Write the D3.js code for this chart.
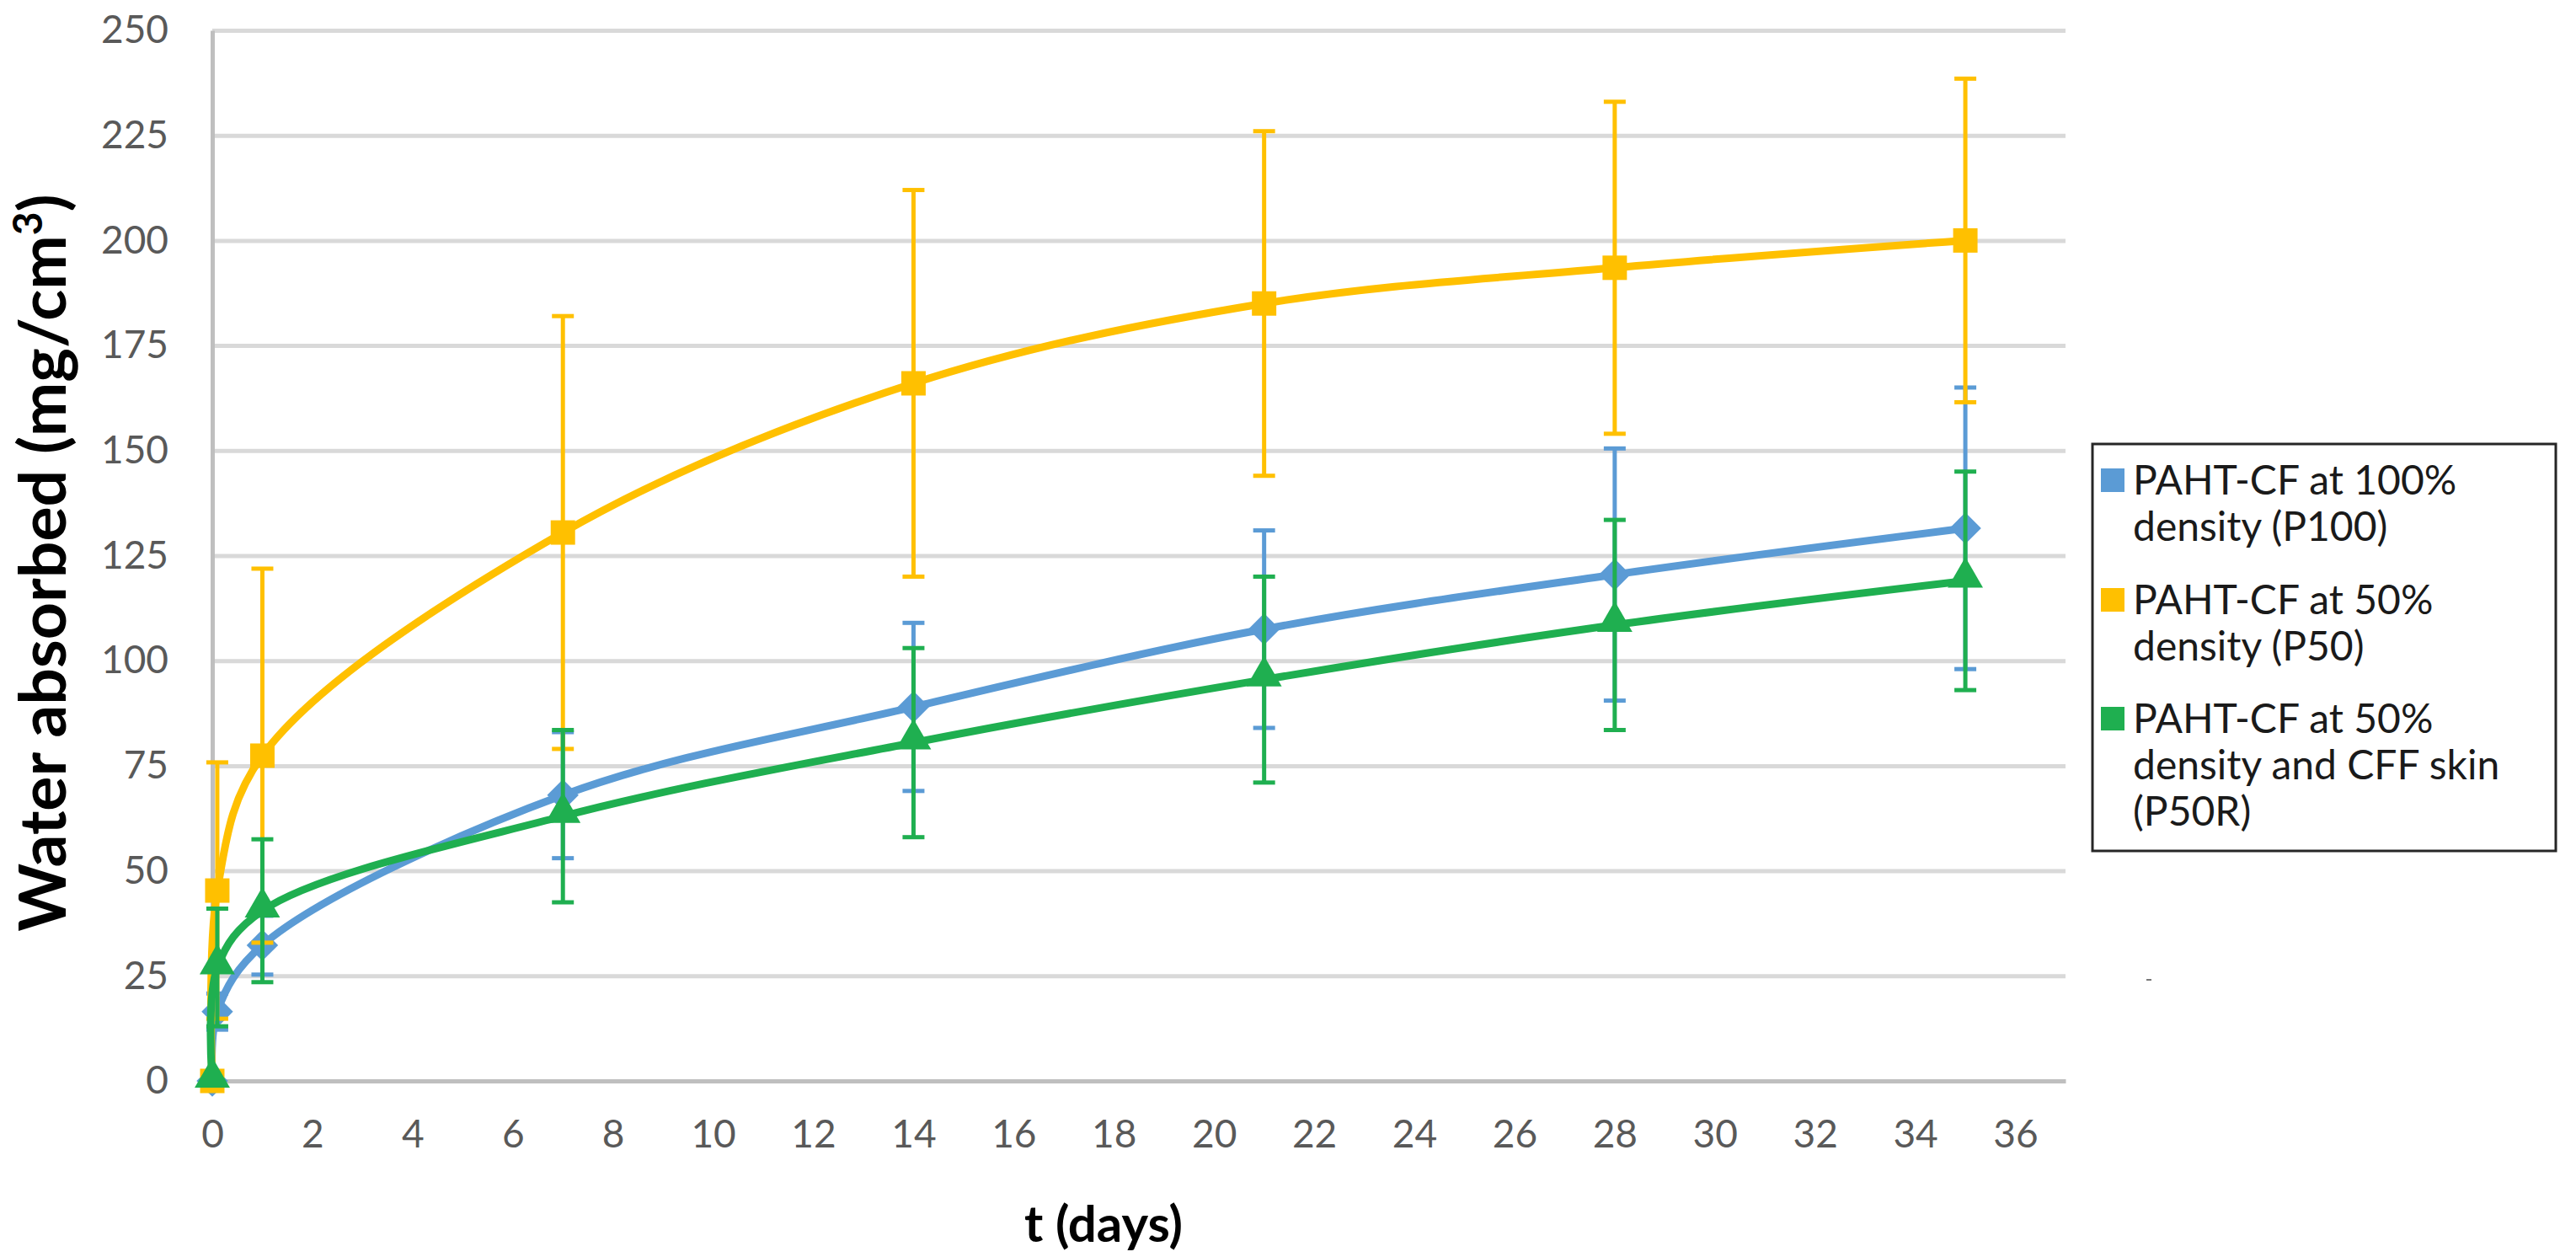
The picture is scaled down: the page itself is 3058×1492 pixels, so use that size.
<!DOCTYPE html>
<html>
<head lang="en">
    <meta charset="UTF-8">
    <script type="text/javascript" src="https://d3js.org/d3.v7.min.js"></script>
    <style>
        body { margin: 0; background: #fff; }
        text { font-family: Lato, "Open Sans", sans-serif; }
    </style>
</head>
<body onload="init()">
    <svg id="chart" width="3058" height="1492"></svg>
    <script>

        // time points (days)
        var days = [0, 0.1, 1, 7, 14, 21, 28, 35];

        // P100 - blue diamonds
        var p100 = [0, 16.5, 32.3, 68, 89, 107.5, 120.5, 131.5];
        var p100Err = [0, 4.3, 7, 15, 20, 23.5, 30, 33.5];

        // P50 - yellow squares
        var p50 = [0, 45.3, 77.4, 130.5, 166, 185, 193.5, 200];
        var p50Err = [0, 30.5, 44.5, 51.5, 46, 41, 39.5, 38.5];

        // P50R - green triangles
        var p50r = [0, 27, 40.5, 63, 80.5, 95.5, 108.5, 119];
        var p50rErr = [0, 14, 17, 20.5, 22.5, 24.5, 25, 26];

        var xTicks = d3.range(0, 37, 2);
        var yTicks = d3.range(0, 251, 25);

        var legendLabels = [
            ["PAHT-CF at 100%", "density (P100)"],
            ["PAHT-CF at 50%", "density (P50)"],
            ["PAHT-CF at 50%", "density and CFF skin", "(P50R)"]
        ];

        var colBlue = "#5b9bd5";
        var colYellow = "#ffc000";
        var colGreen = "#1faf50";

        // plot area (pixels)
        var plotLeft = 252, plotRight = 2452, plotTop = 36, plotBottom = 1283;

        var xScale = d3.scaleLinear().domain([0, 37]).range([plotLeft, plotRight]);
        var yScale = d3.scaleLinear().domain([0, 250]).range([plotBottom, plotTop]);

        function init(){
            var svg = d3.select("#chart");

            // gridlines
            svg.append("g")
                .attr("transform", "translate(" + plotLeft + ",0)")
                .call(d3.axisLeft(yScale).tickValues(yTicks).tickSize(-(plotRight - plotLeft)).tickFormat(""))
                .call(g => g.select(".domain").remove())
                .call(g => g.selectAll("line").attr("stroke", "#d9d9d9").attr("stroke-width", 5));

            // y axis line + labels
            var yAxis = svg.append("g")
                .attr("transform", "translate(" + plotLeft + ",0)")
                .call(d3.axisLeft(yScale).tickValues(yTicks).tickSize(0).tickPadding(52));
            yAxis.select(".domain").attr("stroke", "#bfbfbf").attr("stroke-width", 5);
            yAxis.selectAll("text").attr("fill", "#595959").attr("font-size", 46)
                .attr("font-family", "Lato, sans-serif");

            // x axis line + labels
            var xAxis = svg.append("g")
                .attr("transform", "translate(0," + plotBottom + ")")
                .call(d3.axisBottom(xScale).tickValues(xTicks).tickSize(0).tickPadding(46));
            xAxis.select(".domain").attr("stroke", "#bfbfbf").attr("stroke-width", 5);
            xAxis.selectAll("text").attr("fill", "#595959").attr("font-size", 46)
                .attr("font-family", "Lato, sans-serif");

            // axis titles
            svg.append("text")
                .attr("x", 1310)
                .attr("y", 1474)
                .attr("text-anchor", "middle")
                .attr("font-weight", "bold")
                .attr("font-size", 60)
                .text("t (days)");

            var yTitle = svg.append("text")
                .attr("transform", "translate(78,668) rotate(-90)")
                .attr("text-anchor", "middle")
                .attr("font-weight", "bold")
                .attr("font-size", 77);
            yTitle.append("tspan").text("Water absorbed (mg/cm");
            yTitle.append("tspan").attr("dy", -28).attr("font-size", 48).text("3");
            yTitle.append("tspan").attr("dy", 28).text(")");

            var series = [
                {vals: p100, err: p100Err, color: colBlue, shape: "diamond"},
                {vals: p50, err: p50Err, color: colYellow, shape: "square"},
                {vals: p50r, err: p50rErr, color: colGreen, shape: "triangle"}
            ];

            var line = d3.line()
                .x(function(d){ return xScale(d[0]); })
                .y(function(d){ return yScale(d[1]); })
                .curve(d3.curveCatmullRom.alpha(0.5));

            series.forEach(function(s){
                var pts = days.map(function(t, i){ return [t, s.vals[i], s.err[i]]; });
                var g = svg.append("g");

                // error bars
                var eb = g.selectAll(".err").data(pts.filter(function(d){ return d[2] > 0; }))
                    .enter().append("g");
                eb.append("line")
                    .attr("x1", function(d){ return xScale(d[0]); })
                    .attr("x2", function(d){ return xScale(d[0]); })
                    .attr("y1", function(d){ return yScale(d[1] - d[2]); })
                    .attr("y2", function(d){ return yScale(d[1] + d[2]); })
                    .attr("stroke", s.color).attr("stroke-width", 5);
                [-1, 1].forEach(function(sign){
                    eb.append("line")
                        .attr("x1", function(d){ return xScale(d[0]) - 13; })
                        .attr("x2", function(d){ return xScale(d[0]) + 13; })
                        .attr("y1", function(d){ return yScale(d[1] + sign * d[2]); })
                        .attr("y2", function(d){ return yScale(d[1] + sign * d[2]); })
                        .attr("stroke", s.color).attr("stroke-width", 5);
                });

                // smoothed line
                g.append("path")
                    .datum(pts)
                    .attr("d", line)
                    .attr("fill", "none")
                    .attr("stroke", s.color)
                    .attr("stroke-width", 9);

                // markers
                var sym;
                if (s.shape === "diamond") sym = d3.symbol().type(d3.symbolSquare).size(700);
                else if (s.shape === "square") sym = d3.symbol().type(d3.symbolSquare).size(840);
                else sym = d3.symbol().type(d3.symbolTriangle).size(760);

                g.selectAll(".mk").data(pts).enter().append("path")
                    .attr("d", sym)
                    .attr("transform", function(d){
                        var tr = "translate(" + xScale(d[0]) + "," + yScale(d[1]) + ")";
                        if (s.shape === "diamond") tr += " rotate(45)";
                        if (s.shape === "triangle") tr += " translate(0,-4)";
                        return tr;
                    })
                    .attr("fill", s.color);
            });

            // legend
            var lg = svg.append("g");
            lg.append("rect")
                .attr("x", 2484).attr("y", 527)
                .attr("width", 550).attr("height", 483)
                .attr("fill", "#fff")
                .attr("stroke", "#262626").attr("stroke-width", 3);

            var legendColors = [colBlue, colYellow, colGreen];
            var itemY = [570, 712, 853];
            legendLabels.forEach(function(lines, i){
                lg.append("rect")
                    .attr("x", 2494).attr("y", itemY[i] - 14)
                    .attr("width", 28).attr("height", 28)
                    .attr("fill", legendColors[i]);
                lines.forEach(function(txt, j){
                    lg.append("text")
                        .attr("x", 2532)
                        .attr("y", itemY[i] + j * 55)
                        .attr("dy", "0.36em")
                        .attr("font-size", 48)
                        .attr("fill", "#1a1a1a")
                        .text(txt);
                });
            });

            // small stray mark right of the plot
            svg.append("line")
                .attr("x1", 2548).attr("x2", 2554)
                .attr("y1", 1163).attr("y2", 1163)
                .attr("stroke", "#777").attr("stroke-width", 2);
        }

    </script>
</body>
</html>
